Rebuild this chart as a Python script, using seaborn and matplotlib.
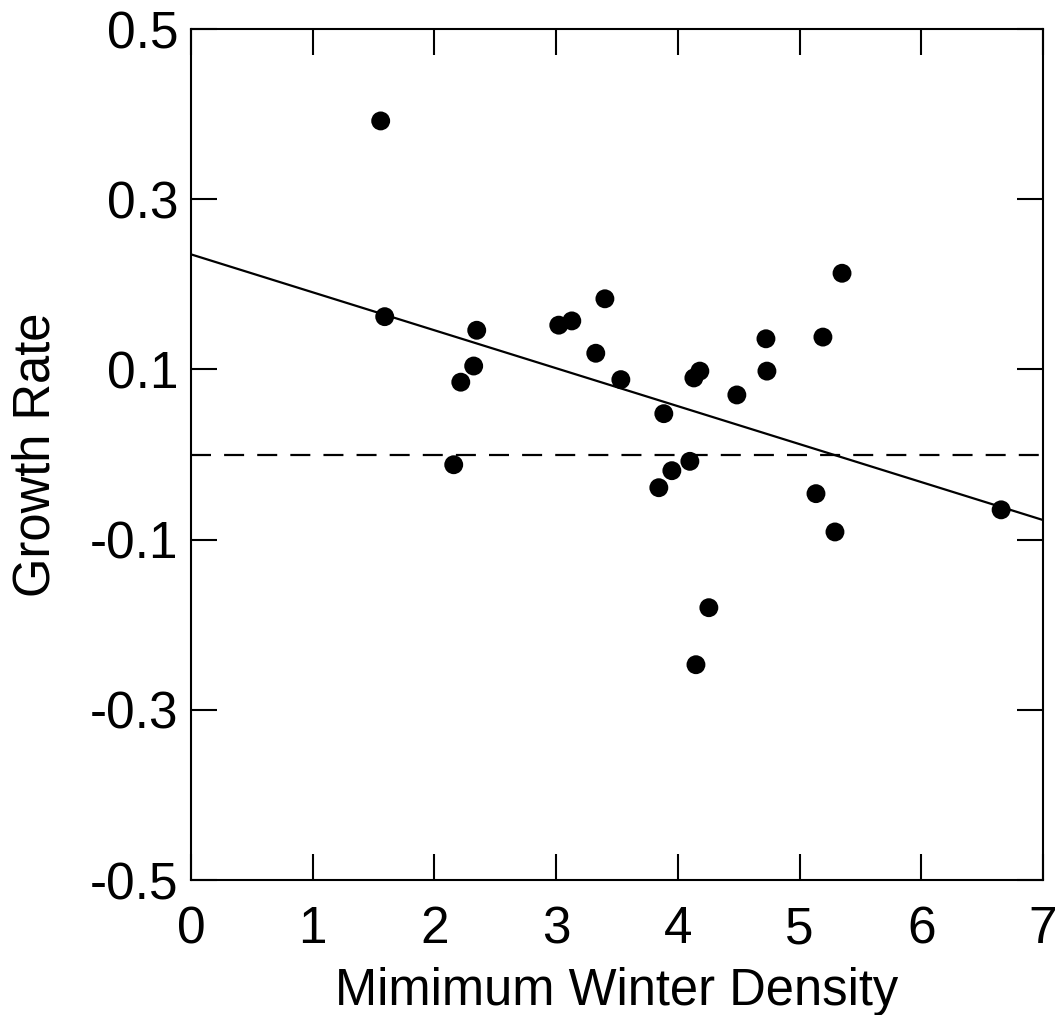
import matplotlib
matplotlib.use("Agg")
import matplotlib.pyplot as plt
import seaborn as sns
import pandas as pd

# Data
min_winter_density = [1.558, 1.591, 2.158, 2.216, 2.322, 2.347, 3.021, 3.128, 3.325,
                      3.400, 3.531, 3.884, 3.843, 3.950, 4.098, 4.131, 4.180, 4.148,
                      4.254, 4.484, 4.723, 4.731, 5.134, 5.191, 5.290, 5.348, 6.655]
growth_rate = [0.392, 0.162, -0.012, 0.085, 0.104, 0.146, 0.152, 0.157, 0.119,
               0.183, 0.088, 0.048, -0.039, -0.019, -0.008, 0.090, 0.098, -0.247,
               -0.180, 0.070, 0.136, 0.098, -0.046, 0.138, -0.091, 0.213, -0.065]
x_ticks = [0, 1, 2, 3, 4, 5, 6, 7]
y_ticks = [-0.5, -0.3, -0.1, 0.1, 0.3, 0.5]
y_tick_labels = ["-0.5", "-0.3", "-0.1", "0.1", "0.3", "0.5"]

df = pd.DataFrame({"x": min_winter_density, "y": growth_rate})

sns.set_style("ticks")
plt.rcParams["font.family"] = ["Liberation Sans", "DejaVu Sans"]

fig = plt.figure(figsize=(10.59, 10.15), dpi=100)
ax = fig.add_axes([0.1804, 0.133, 0.8046, 0.8384])
ax.set_xlim(0, 7)
ax.set_ylim(-0.5, 0.5)

ax.axhline(0, color="black", lw=1.6, ls=(0, (9.0, 5.9)), zorder=1)
sns.regplot(data=df, x="x", y="y", ax=ax, ci=None, truncate=False,
            scatter_kws=dict(s=185, color="black", edgecolor="none", alpha=1, zorder=3),
            line_kws=dict(color="black", lw=1.6, zorder=2))

ax.set_xlim(0, 7)
ax.set_ylim(-0.5, 0.5)
ax.set_xticks(x_ticks)
ax.set_yticks(y_ticks)
ax.set_yticklabels(y_tick_labels)
ax.tick_params(direction="in", length=19, width=1.5, top=True, right=True,
               labelsize=37, color="black", labelcolor="black")
ax.tick_params(axis="y", pad=9)
ax.tick_params(axis="x", pad=18)
for sp in ax.spines.values():
    sp.set_visible(True)
    sp.set_linewidth(1.5)
    sp.set_color("black")

ax.set_xlabel("Mimimum Winter Density", fontsize=36.5, labelpad=9, color="black")
ax.set_ylabel("Growth Rate", fontsize=36.5, labelpad=21, color="black")

fig.savefig("out.png", dpi=100, facecolor="white")
